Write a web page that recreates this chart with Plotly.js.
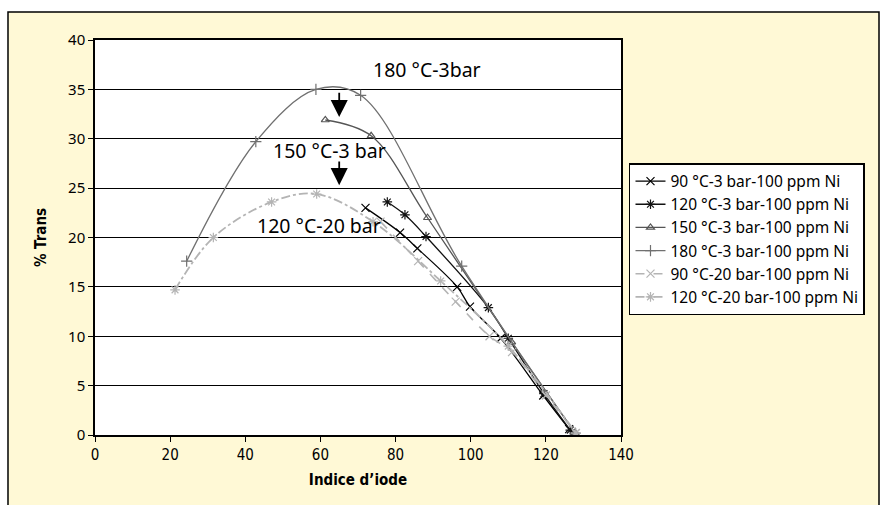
<!DOCTYPE html>
<html><head><meta charset="utf-8">
<script src="https://cdn.plot.ly/plotly-3.0.1.min.js"></script>
<style>body{margin:0;background:#fff}#c{width:884px;height:505px}</style>
</head><body><div id="c"></div>
<script>
const names = ["90 °C-3 bar-100 ppm Ni","120 °C-3 bar-100 ppm Ni","150 °C-3 bar-100 ppm Ni","180 °C-3 bar-100 ppm Ni","90 °C-20 bar-100 ppm Ni","120 °C-20 bar-100 ppm Ni"];
const x90_3 = [72, 81.2, 85.8, 96.4, 99.8, 108, 119.3, 126.2];
const y90_3 = [23.0, 20.5, 18.9, 15.0, 13.0, 9.8, 4.0, 0.6];
const x120_3 = [77.8, 82.5, 88.1, 104.7, 110, 119.5, 126.5];
const y120_3 = [23.6, 22.3, 20.1, 12.9, 9.8, 4.2, 0.5];
const x150_3 = [61.3, 73.5, 88.5, 110.9, 127.8];
const y150_3 = [31.9, 30.3, 22.0, 9.4, 0.2];
const x180_3 = [24.4, 42.8, 58.8, 70.7, 97.6, 127.8];
const y180_3 = [17.6, 29.7, 35.0, 34.4, 17.1, 0.2];
const x90_20 = [76, 86, 96, 105, 111, 120, 128];
const y90_20 = [21.6, 17.6, 13.5, 10.0, 8.4, 4.0, 0.2];
const x120_20 = [21.3, 31.5, 47.0, 59.0, 74, 92, 110, 128];
const y120_20 = [14.7, 20.0, 23.6, 24.4, 21.6, 15.6, 9.0, 0.2];
const xTicks = [0,20,40,60,80,100,120,140];
const yTicks = [0,5,10,15,20,25,30,35,40];
const labels = ["180 °C-3bar","150 °C-3 bar","120 °C-20 bar"];

function tr(x,y,name,color,sym,dash,lw,ms){
  return {x:x,y:y,name:name,type:'scatter',mode:'lines+markers',
    line:{shape:'spline',smoothing:1,color:color,width:lw,dash:dash},
    marker:{symbol:sym,size:ms,color:color,line:{color:color,width:1.2}}};
}
const data = [
  tr(x90_3,y90_3,names[0],'#000000','x-thin-open','solid',1.3,8),
  tr(x120_3,y120_3,names[1],'#111111','asterisk-open','solid',1.3,8),
  tr(x150_3,y150_3,names[2],'#555555','triangle-up-open','solid',1.3,7),
  tr(x180_3,y180_3,names[3],'#707070','cross-thin-open','solid',1.3,8),
  tr(x90_20,y90_20,names[4],'#B4B4B4','x-thin-open','dash',1.6,8),
  tr(x120_20,y120_20,names[5],'#B4B4B4','asterisk-open','dashdot',1.8,8)
];
const fnt = "'DejaVu Sans Condensed','Liberation Sans Narrow',sans-serif";
const layout = {
  width:884,height:505,
  margin:{l:95,r:263,t:40,b:70},
  paper_bgcolor:'#ffffff',plot_bgcolor:'rgba(0,0,0,0)',
  showlegend:true,
  font:{family:"'Noto Sans',sans-serif",color:'#000',size:15},
  xaxis:{range:[0,140],tickvals:xTicks,ticktext:xTicks.map(String),showgrid:false,zeroline:false,
    showline:true,linecolor:'#000',linewidth:1.5,mirror:true,ticks:'outside',ticklen:5,tickcolor:'#000',
    tickfont:{family:fnt,size:15,color:'#000'},
    title:{text:'<b>Indice d\u2019iode</b>',font:{family:fnt,size:15,color:'#000'},standoff:12}},
  yaxis:{range:[0,40],tickvals:yTicks,ticktext:yTicks.map(String),showgrid:true,gridcolor:'#000',gridwidth:1,zeroline:false,
    showline:true,linecolor:'#000',linewidth:1.5,mirror:true,ticks:'outside',ticklen:5,tickcolor:'#000',
    tickfont:{family:"'Noto Sans',sans-serif",size:15,color:'#000'},
    title:{text:'<b>% Trans</b>',font:{family:fnt,size:15,color:'#000'},standoff:18}},
  legend:{x:1.0152,y:0.6886,xanchor:'left',yanchor:'top',bgcolor:'#ffffff',bordercolor:'#000',borderwidth:1.5,
    font:{family:"'Noto Sans',sans-serif",size:15.5,color:'#000'},tracegroupgap:0,itemwidth:30},
  shapes:[
    {type:'rect',xref:'paper',yref:'paper',x0:-0.1654,x1:1.4905,y0:-0.2,y1:1.0709,layer:'below',
      fillcolor:'#FFF9D6',line:{color:'#000',width:1.5}},
    {type:'rect',xref:'paper',yref:'paper',x0:0,x1:1,y0:0,y1:1,layer:'below',
      fillcolor:'#ffffff',line:{width:0}}
  ],
  annotations:[
    {x:88.4,y:37.0,text:labels[0],showarrow:false,font:{size:19.5,color:'#000'}},
    {x:62.5,y:28.8,text:labels[1],showarrow:false,font:{size:19.5,color:'#000'}},
    {x:59.6,y:21.2,text:labels[2],showarrow:false,font:{size:19.5,color:'#000'}},
    {x:65,y:32.2,ax:65,ay:34.8,axref:'x',ayref:'y',text:'',showarrow:true,arrowhead:2,arrowsize:1.9,arrowwidth:1.8,arrowcolor:'#000'},
    {x:65,y:25.3,ax:65,ay:27.85,axref:'x',ayref:'y',text:'',showarrow:true,arrowhead:2,arrowsize:1.9,arrowwidth:1.8,arrowcolor:'#000'}
  ]
};
Plotly.newPlot('c',data,layout,{displayModeBar:false});
</script></body></html>
